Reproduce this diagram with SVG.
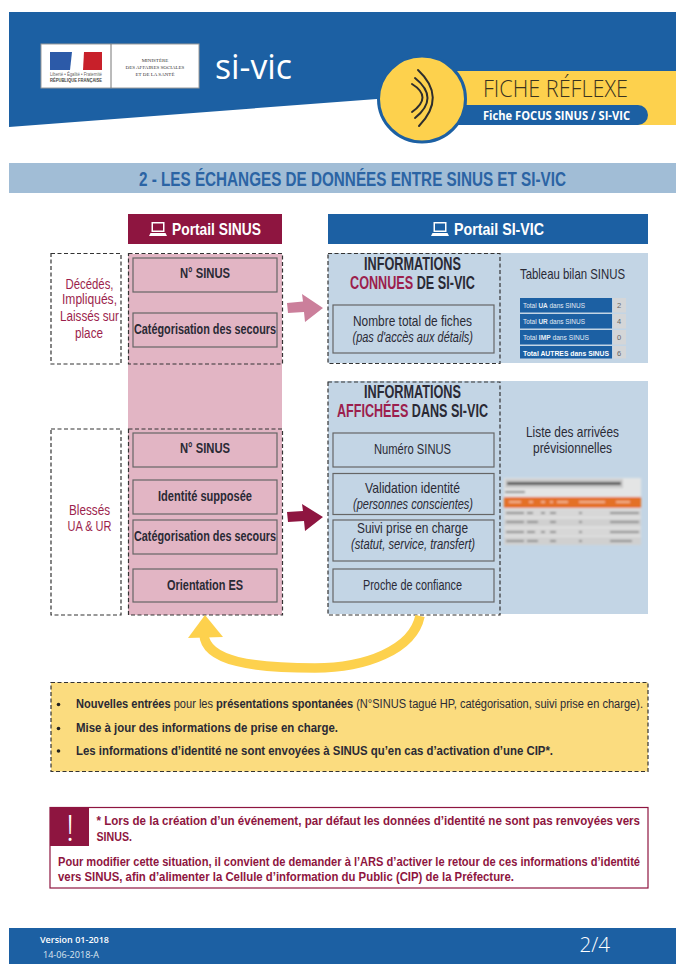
<svg xmlns="http://www.w3.org/2000/svg" width="676" height="964" viewBox="0 0 676 964">
<style>
text{font-family:"Liberation Sans Narrow","Liberation Sans",Arial,sans-serif;fill:#2a2a35}
.b{font-weight:700}
.i{font-style:italic}
.lbl{font-size:14px;font-weight:700}
.big{font-size:17.5px;font-weight:700}
.ttl{font-size:15px;font-weight:700}
.red{fill:#9c1f4d}
.wh{fill:#fff}
.dash{fill:none;stroke:#333;stroke-width:1.2;stroke-dasharray:4 2.5}
.box{fill:none;stroke:#666;stroke-width:1.2}
.os{font-family:"Open Sans","Liberation Sans",sans-serif}
.warn{font-size:12.5px;font-weight:700;fill:#8e1540}
.yl{font-size:12.5px}
.tb{fill:#1c60a3}
.tg{fill:#d4d6d8}
.tt{font-family:"Liberation Sans",sans-serif;font-size:7px;fill:#e4ecf4}
.tn{font-family:"Liberation Sans",sans-serif;font-size:7.5px;fill:#666;text-anchor:middle}
</style>
<defs>
<g id="laptop"><path d="M2.5 0H15.5V10H2.5ZM4 1.5V8.5H14V1.5Z" fill="#fff" fill-rule="evenodd"/><path d="M1.5 11H16.500L18 14H0Z" fill="#fff"/></g>
<filter id="soft" x="-5%" y="-5%" width="110%" height="110%"><feGaussianBlur stdDeviation="0.8"/></filter>
</defs>

<rect width="676" height="964" fill="#fff"/>

<g id="header">
<path d="M9 12H676V72H460V99L377 99 9 127Z" fill="#1c60a3"/>
<rect x="440" y="71" width="236" height="54" fill="#fdd14d"/>
<path d="M455 105H638a10 10 0 0 1 0 20H455Z" fill="#1c60a3"/>
<ellipse cx="422" cy="99" rx="43.500" ry="43" fill="#fdd14d" stroke="#1c60a3" stroke-width="3"/>
<g fill="none" stroke="#2d2d2d" stroke-width="2" stroke-linecap="round">
<path d="M418 70Q447 97 419 126"/>
<path d="M415 78Q440 98 415 118"/>
<path d="M412 84Q433 97 412 112"/>
</g>
<text class="os" x="483" y="97" font-size="24" textLength="145" lengthAdjust="spacingAndGlyphs" style="font-weight:300;fill:#3a3320">FICHE RÉFLEXE</text>
<text class="os wh" x="483" y="120" font-size="11.500" font-weight="700" textLength="147" lengthAdjust="spacingAndGlyphs">Fiche FOCUS SINUS / SI-VIC</text>
<text class="os wh" x="215" y="79" font-size="34" textLength="77" lengthAdjust="spacingAndGlyphs" style="font-weight:400">si-vic</text>
</g>

<g id="logo">
<rect x="41" y="44" width="158" height="44" fill="#fff" stroke="#9a9a9a"/>
<line x1="111" y1="44" x2="111" y2="88" stroke="#777"/>
<path d="M50 52H72L70 70H50Z" fill="#2c5aa8"/>
<path d="M84 52H102V70H83Z" fill="#c8202a"/>
<text x="50" y="76" style="font-size:4.500px;fill:#666" textLength="52" lengthAdjust="spacingAndGlyphs">Liberté • Égalité • Fraternité</text>
<text x="50" y="82" style="font-size:4.500px;font-weight:700;fill:#444" textLength="52" lengthAdjust="spacingAndGlyphs">RÉPUBLIQUE FRANÇAISE</text>
<g text-anchor="middle">
<text x="155" y="62" style="font-family:'Liberation Serif',serif;font-size:5px;fill:#333">MINISTÈRE</text>
<text x="155" y="69" style="font-family:'Liberation Serif',serif;font-size:5px;fill:#333">DES AFFAIRES SOCIALES</text>
<text x="155" y="76" style="font-family:'Liberation Serif',serif;font-size:5px;fill:#333">ET DE LA SANTÉ</text>
</g>
</g>

<g id="section-title">
<rect x="9" y="163" width="667" height="30" fill="#a1bdd6"/>
<text x="139" y="186" font-size="20" font-weight="700" style="fill:#2b64a4" textLength="427" lengthAdjust="spacingAndGlyphs">2 - LES ÉCHANGES DE DONNÉES ENTRE SINUS ET SI-VIC</text>
</g>

<g id="portail-sinus">
<rect x="128" y="214" width="154" height="30" fill="#8e1540"/>
<use href="#laptop" x="149" y="222"/>
<text class="wh" x="172" y="235" font-size="17" font-weight="700" textLength="89" lengthAdjust="spacingAndGlyphs">Portail SINUS</text>
<rect x="128" y="254" width="154" height="361" fill="#e2b5c4"/>
</g>

<g id="portail-sivic">
<rect x="328" y="214" width="320" height="30" fill="#1c60a3"/>
<use href="#laptop" x="431" y="222"/>
<text class="wh" x="454" y="235" font-size="17" font-weight="700" textLength="90" lengthAdjust="spacingAndGlyphs">Portail SI-VIC</text>
<rect x="328" y="253" width="320" height="110" fill="#c3d5e5"/>
<rect x="328" y="381" width="320" height="233" fill="#c3d5e5"/>
</g>

<g id="group-decedes">
<rect class="dash" x="51" y="253.500" width="70" height="110.500"/>
<text class="lbl red" style="font-weight:400" x="65.500" y="289" textLength="48" lengthAdjust="spacingAndGlyphs">Décédés,</text>
<text class="lbl red" style="font-weight:400" x="62" y="304" textLength="55" lengthAdjust="spacingAndGlyphs">Impliqués,</text>
<text class="lbl red" style="font-weight:400" x="60" y="321" textLength="59" lengthAdjust="spacingAndGlyphs">Laissés sur</text>
<text class="lbl red" style="font-weight:400" x="75" y="338" textLength="28" lengthAdjust="spacingAndGlyphs">place</text>
</g>

<g id="group-blesses">
<rect class="dash" x="51" y="429" width="70" height="186"/>
<text class="lbl red" style="font-weight:400" x="69" y="515" textLength="41" lengthAdjust="spacingAndGlyphs">Blessés</text>
<text class="lbl red" style="font-weight:400" x="67.500" y="531" textLength="44" lengthAdjust="spacingAndGlyphs">UA &amp; UR</text>
</g>

<g id="sinus-1">
<rect class="dash" x="128.500" y="253.500" width="154" height="110.500"/>
<rect class="box" x="133" y="258" width="144" height="34"/>
<text class="lbl" x="180" y="278" textLength="50" lengthAdjust="spacingAndGlyphs">N° SINUS</text>
<rect class="box" x="133" y="313" width="144" height="34"/>
<text class="lbl" x="134" y="334" textLength="142" lengthAdjust="spacingAndGlyphs">Catégorisation des secours</text>
</g>

<g id="sinus-2">
<rect class="dash" x="128.500" y="429" width="154" height="186"/>
<rect class="box" x="133" y="433" width="144" height="34"/>
<text class="lbl" x="180" y="453" textLength="50" lengthAdjust="spacingAndGlyphs">N° SINUS</text>
<rect class="box" x="133" y="480" width="144" height="34"/>
<text class="lbl" x="158" y="501" textLength="94" lengthAdjust="spacingAndGlyphs">Identité supposée</text>
<rect class="box" x="133" y="520" width="144" height="34"/>
<text class="lbl" x="134" y="541" textLength="142" lengthAdjust="spacingAndGlyphs">Catégorisation des secours</text>
<rect class="box" x="133" y="569" width="144" height="33"/>
<text class="lbl" x="167" y="590" textLength="76" lengthAdjust="spacingAndGlyphs">Orientation ES</text>
</g>

<g id="infos-connues">
<rect class="dash" x="328" y="253.500" width="172" height="110"/>
<text class="big" x="364" y="270" textLength="97" lengthAdjust="spacingAndGlyphs">INFORMATIONS</text>
<text class="big" x="350" y="289" textLength="125" lengthAdjust="spacingAndGlyphs"><tspan class="red">CONNUES</tspan> DE SI-VIC</text>
<rect class="box" x="333" y="305" width="161" height="48"/>
<text class="lbl" style="font-weight:400;font-size:15px" x="353" y="326" textLength="119" lengthAdjust="spacingAndGlyphs">Nombre total de fiches</text>
<text class="lbl i" style="font-weight:400" x="352.500" y="342" textLength="120.500" lengthAdjust="spacingAndGlyphs">(pas d'accès aux détails)</text>
</g>

<g id="tableau-bilan">
<text class="ttl" style="font-weight:400" x="520" y="279" textLength="105" lengthAdjust="spacingAndGlyphs">Tableau bilan SINUS</text>
<rect class="tb" x="520" y="298" width="92" height="14.500"/><rect class="tg" x="613" y="298" width="13" height="14.500"/>
<rect class="tb" x="520" y="314" width="92" height="14.500"/><rect class="tg" x="613" y="314" width="13" height="14.500"/>
<rect class="tb" x="520" y="330" width="92" height="14.500"/><rect class="tg" x="613" y="330" width="13" height="14.500"/>
<rect class="tb" x="520" y="346" width="92" height="12.500"/><rect class="tg" x="613" y="346" width="13" height="12.500"/>
<text class="tt" x="523" y="308" textLength="62" lengthAdjust="spacingAndGlyphs">Total <tspan font-weight="700">UA</tspan> dans SINUS</text><text class="tn" x="619" y="308">2</text>
<text class="tt" x="523" y="324" textLength="62" lengthAdjust="spacingAndGlyphs">Total <tspan font-weight="700">UR</tspan> dans SINUS</text><text class="tn" x="619" y="324">4</text>
<text class="tt" x="523" y="340" textLength="66" lengthAdjust="spacingAndGlyphs">Total <tspan font-weight="700">IMP</tspan> dans SINUS</text><text class="tn" x="619" y="340">0</text>
<text class="tt" x="523" y="356" font-weight="700" style="fill:#fff" textLength="86" lengthAdjust="spacingAndGlyphs">Total AUTRES dans SINUS</text><text class="tn" x="619" y="356">6</text>
</g>

<g id="infos-affichees">
<rect class="dash" x="328" y="382" width="172" height="233"/>
<text class="big" x="364" y="398" textLength="97" lengthAdjust="spacingAndGlyphs">INFORMATIONS</text>
<text class="big" x="337" y="417" textLength="151" lengthAdjust="spacingAndGlyphs"><tspan class="red">AFFICHÉES</tspan> DANS SI-VIC</text>
<rect class="box" x="333" y="433" width="161" height="34"/>
<text class="lbl" style="font-weight:400;font-size:15px" x="374" y="454" textLength="77" lengthAdjust="spacingAndGlyphs">Numéro SINUS</text>
<rect class="box" x="333" y="473.500" width="161" height="41"/>
<text class="lbl" style="font-weight:400;font-size:15px" x="365" y="493" textLength="95" lengthAdjust="spacingAndGlyphs">Validation identité</text>
<text class="lbl i" style="font-weight:400" x="353" y="509" textLength="120" lengthAdjust="spacingAndGlyphs">(personnes conscientes)</text>
<rect class="box" x="333" y="520" width="161" height="41"/>
<text class="lbl" style="font-weight:400;font-size:15px" x="357" y="533" textLength="111" lengthAdjust="spacingAndGlyphs">Suivi prise en charge</text>
<text class="lbl i" style="font-weight:400" x="351" y="549" textLength="124" lengthAdjust="spacingAndGlyphs">(statut, service, transfert)</text>
<rect class="box" x="333" y="569" width="161" height="33"/>
<text class="lbl" style="font-weight:400" x="363" y="590" textLength="99" lengthAdjust="spacingAndGlyphs">Proche de confiance</text>
</g>

<g id="liste-arrivees">
<text class="ttl" style="font-weight:400" x="526" y="437" textLength="93" lengthAdjust="spacingAndGlyphs">Liste des arrivées</text>
<text class="ttl" style="font-weight:400" x="533" y="453" textLength="79" lengthAdjust="spacingAndGlyphs">prévisionnelles</text>
<g filter="url(#soft)">
<rect x="504" y="478" width="137" height="67" fill="#e4e5e5"/>
<rect x="505" y="479" width="118" height="9" fill="#c9c9c9"/>
<rect x="507" y="482" width="114" height="3" fill="#555"/>
<rect x="505" y="491" width="20" height="2" fill="#888"/>
<rect x="504" y="497" width="137" height="11" fill="#e46f26"/>
<rect x="504" y="509" width="137" height="8" fill="#d7d7d7"/>
<rect x="504" y="518.500" width="137" height="8" fill="#d0d0d0"/>
<rect x="504" y="528" width="137" height="8" fill="#d7d7d7"/>
<rect x="504" y="537" width="137" height="8" fill="#d0d0d0"/>
<g fill="#8a8a8a">
<rect x="506" y="512" width="18" height="2"/><rect x="527" y="512" width="6" height="2"/><rect x="541" y="512" width="4" height="2"/><rect x="550" y="512" width="6" height="2"/><rect x="579" y="512" width="3" height="2"/><rect x="610" y="512" width="29" height="2"/>
<rect x="506" y="521" width="18" height="2"/><rect x="527" y="521" width="11" height="2"/><rect x="550" y="521" width="6" height="2"/><rect x="579" y="521" width="3" height="2"/><rect x="610" y="521" width="29" height="2"/>
<rect x="506" y="531" width="18" height="2"/><rect x="527" y="531" width="8" height="2"/><rect x="541" y="531" width="4" height="2"/><rect x="550" y="531" width="6" height="2"/><rect x="579" y="531" width="3" height="2"/><rect x="610" y="531" width="29" height="2"/>
<rect x="506" y="540" width="18" height="2"/><rect x="527" y="540" width="11" height="2"/><rect x="550" y="540" width="6" height="2"/><rect x="579" y="540" width="3" height="2"/><rect x="610" y="540" width="22" height="2"/>
</g>
<g fill="#f3b48c">
<rect x="509" y="501" width="12" height="2"/><rect x="529" y="501" width="4" height="2"/><rect x="541" y="501" width="4" height="2"/><rect x="550" y="501" width="3" height="2"/><rect x="557" y="501" width="11" height="2"/><rect x="579" y="501" width="26" height="2"/><rect x="616" y="501" width="14" height="2"/>
</g>
</g>
</g>

<g id="connectors">
<path d="M287 303L303 301.500 302 294 323 308 305 322 304 312 288 313Z" fill="#cb7f9b"/>
<path d="M287 512L303 511 302 504 323 517 305 531 304 521 288 522Z" fill="#8e1540"/>
<path d="M420 616C413 650 365 668 315 668C255 668 205 662 204 634" fill="none" stroke="#fdd14d" stroke-width="9.500"/>
<path d="M205 615L223 637 188 638Z" fill="#fdd14d"/>
</g>

<g id="note-yellow">
<rect x="51" y="682.500" width="597" height="89" fill="#fbdc7f"/>
<rect class="dash" x="51" y="682.500" width="597" height="89"/>
<circle cx="58.500" cy="704.500" r="1.800" fill="#222"/>
<circle cx="58.500" cy="728.500" r="1.800" fill="#222"/>
<circle cx="58.500" cy="751" r="1.800" fill="#222"/>
<text class="yl" x="76" y="708" textLength="567" lengthAdjust="spacingAndGlyphs"><tspan class="b">Nouvelles entrées</tspan> pour les <tspan class="b">présentations spontanées</tspan> (N°SINUS tagué HP, catégorisation, suivi prise en charge).</text>
<text class="yl b" x="76" y="732" textLength="262" lengthAdjust="spacingAndGlyphs">Mise à jour des informations de prise en charge.</text>
<text class="yl b" x="76" y="755" textLength="477" lengthAdjust="spacingAndGlyphs">Les informations d’identité ne sont envoyées à SINUS qu’en cas d’activation d’une CIP*.</text>
</g>

<g id="note-warning">
<rect x="50" y="807.500" width="598" height="80.500" fill="#fff" stroke="#8e1540" stroke-width="1.200"/>
<rect x="50" y="807.500" width="39" height="38.500" fill="#8e1540"/>
<text class="wh" x="70" y="841" text-anchor="middle" font-size="36" style="font-family:'Open Sans',sans-serif;font-weight:300">!</text>
<text class="warn" x="96.500" y="825" textLength="543.500" lengthAdjust="spacingAndGlyphs">* Lors de la création d’un événement, par défaut les données d’identité ne sont pas renvoyées vers</text>
<text class="warn" x="96.500" y="841" textLength="35.500" lengthAdjust="spacingAndGlyphs">SINUS.</text>
<text class="warn" x="58" y="866" textLength="582" lengthAdjust="spacingAndGlyphs">Pour modifier cette situation, il convient de demander à l’ARS d’activer le retour de ces informations d’identité</text>
<text class="warn" x="58" y="881" textLength="456" lengthAdjust="spacingAndGlyphs">vers SINUS, afin d’alimenter la Cellule d’information du Public (CIP) de la Préfecture.</text>
</g>

<g id="footer">
<rect x="9" y="928" width="667" height="36" fill="#1c60a3"/>
<text class="os wh" x="40" y="943" font-size="8.500" font-weight="600" textLength="69" lengthAdjust="spacingAndGlyphs">Version 01-2018</text>
<text class="os wh" x="43" y="958" font-size="8.500" textLength="56" lengthAdjust="spacingAndGlyphs" style="fill:#dce6f0">14-06-2018-A</text>
<text class="os wh" x="579.500" y="952" font-size="21" textLength="30.500" lengthAdjust="spacingAndGlyphs" style="font-weight:300">2/4</text>
</g>
</svg>
